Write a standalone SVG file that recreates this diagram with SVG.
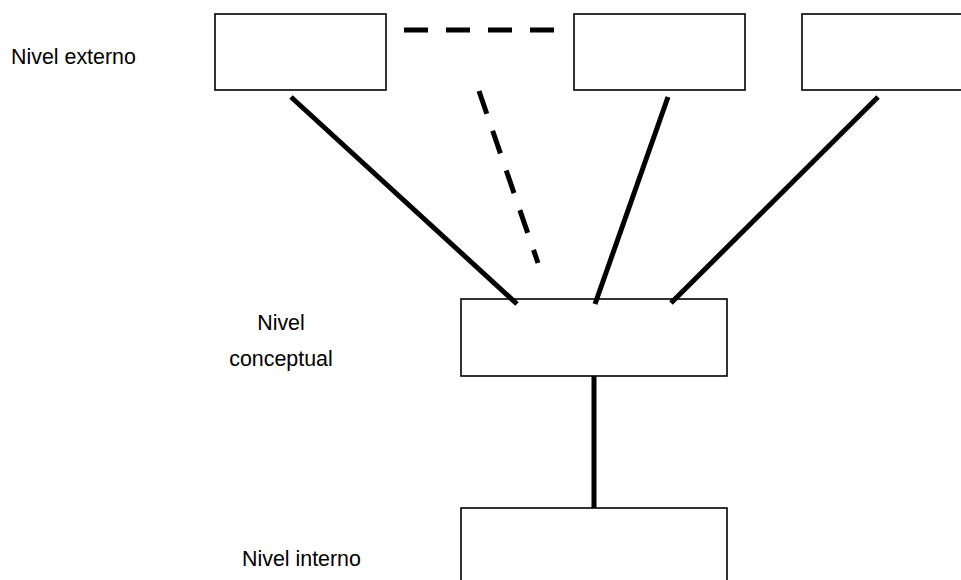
<svg xmlns="http://www.w3.org/2000/svg" width="961" height="580" viewBox="0 0 961 580">
  <style>
    .box { fill: #ffffff; stroke: #000000; stroke-width: 1.6; }
    .lbl { font-family: "Liberation Sans", Arial, sans-serif; font-size: 21.4px; fill: #000000; }
    .link { stroke: #000000; stroke-width: 5; fill: none; }
    .dash { stroke: #000000; stroke-width: 5; fill: none; stroke-dasharray: 24 18; }
  </style>
  <rect width="961" height="580" fill="#ffffff"/>

  <!-- level captions -->
  <text class="lbl" x="11" y="64">Nivel externo</text>
  <text class="lbl" x="281" y="330" text-anchor="middle">Nivel</text>
  <text class="lbl" x="281" y="366" text-anchor="middle">conceptual</text>
  <text class="lbl" x="242" y="566">Nivel interno</text>

  <!-- external views -->
  <g id="ext1"><rect class="box" x="215" y="14" width="171" height="76"/></g>
  <g id="ext2"><rect class="box" x="574" y="14" width="171" height="76"/></g>
  <g id="ext3"><rect class="box" x="802" y="14" width="171" height="76"/></g>

  <!-- conceptual schema -->
  <g id="conceptual"><rect class="box" x="461" y="299" width="266" height="77"/></g>

  <!-- internal schema -->
  <g id="internal"><rect class="box" x="461" y="508" width="266" height="90"/></g>

  <!-- connectors, drawn over the box edges -->
  <g id="connectors">
    <line class="dash" x1="404" y1="30" x2="554" y2="30"/>
    <line class="dash" x1="479" y1="91" x2="538" y2="263"/>
    <line class="link" x1="291" y1="97" x2="517" y2="304"/>
    <line class="link" x1="668" y1="97" x2="595" y2="304"/>
    <line class="link" x1="878" y1="97" x2="671" y2="303"/>
    <line class="link" x1="594" y1="376" x2="594" y2="508" stroke-width="6"/>
  </g>
</svg>
